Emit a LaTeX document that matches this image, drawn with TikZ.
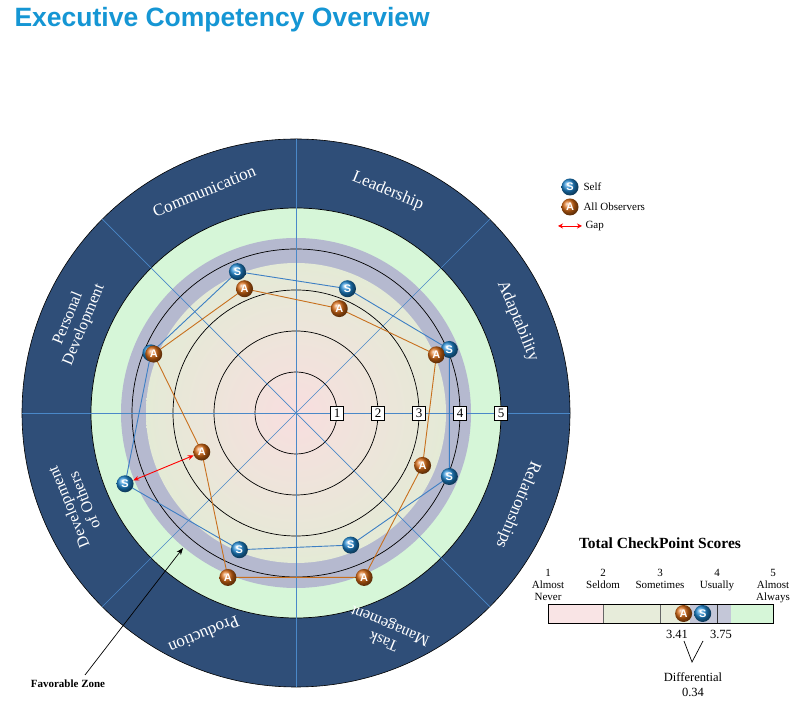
\documentclass[tikz,border=0pt]{standalone}
\usepackage{fontspec}
\setmainfont{Liberation Serif}
\newfontfamily\titlefont{Liberation Sans}
\usetikzlibrary{arrows.meta}
\definecolor{ringdark}{HTML}{2F4E78}
\definecolor{zonegreen}{HTML}{D6F6D8}
\definecolor{bandgray}{HTML}{B5B9CF}
\definecolor{spoke}{HTML}{4A88C8}
\definecolor{selfline}{HTML}{3D7FC4}
\definecolor{selfball}{HTML}{1E86D0}
\definecolor{obsline}{HTML}{C8701E}
\definecolor{obsball}{HTML}{D86A14}
\definecolor{titleblue}{HTML}{1596D4}
\definecolor{pinkc}{HTML}{F8DEDF}
\definecolor{beigec}{HTML}{E4EAD6}
\tikzset{
 sball/.style={circle,minimum size=17pt,inner sep=0pt,shading=ball,ball color=selfball,text=white,font=\titlefont\bfseries\fontsize{11}{11}\selectfont},
 aball/.style={circle,minimum size=17pt,inner sep=0pt,shading=ball,ball color=obsball,text=white,font=\titlefont\bfseries\fontsize{11}{11}\selectfont},
 cat/.style={text=white,align=center,font=\fontsize{17}{18}\selectfont},
 numbox/.style={draw=black,fill=white,inner sep=1.5pt,minimum width=13pt,minimum height=14pt,font=\fontsize{13}{13}\selectfont},
 small/.style={align=center,font=\fontsize{11}{12}\selectfont},
 gap/.style={red,line width=0.9pt,{Stealth[length=6pt,width=5pt]}-{Stealth[length=6pt,width=5pt]}},
}
\begin{document}
\begin{tikzpicture}[x=1pt,y=1pt]
\useasboundingbox[fill=white] (0,0) rectangle (803,711);
\node[anchor=west,text=titleblue,font=\titlefont\bfseries\fontsize{26.5}{26.5}\selectfont] (title) at (11,691) {Executive Competency Overview};
\begin{scope}[shift={(296,298)}]
 \fill[ringdark] (0,0) circle (274);
 \fill[zonegreen] (0,0) circle (205);
 \fill[bandgray] (0,0) circle (175);
 \shade[inner color=pinkc,outer color=beigec] (0,0) circle (150);
 \foreach \r in {41,82,123,164,205} \draw[black,line width=0.7pt] (0,0) circle (\r);
 \draw[black,line width=0.6pt] (0,0) circle (274);
 \foreach \a in {0,45,...,315} \draw[spoke,line width=0.7pt] (0,0) -- (\a:274);
 \node[cat,rotate=22.5] (c1) at (112.5:240) {Communication};
 \node[cat,rotate=-22.5] (c2) at (67.5:240) {Leadership};
 \node[cat,rotate=-67.5] (c3) at (22.5:240) {Adaptability};
 \node[cat,rotate=-112.5] (c4) at (-22.5:240) {Relationships};
 \node[cat,rotate=157.5,font=\fontsize{16}{17}\selectfont] (c5) at (-67.5:238) {Task\\Management};
 \node[cat,rotate=-157.5] (c6) at (-112.5:240) {Production};
 \node[cat,rotate=112.5,font=\fontsize{16}{17}\selectfont] (c7) at (-157.5:238) {Development\\of Others};
 \node[cat,rotate=67.5,font=\fontsize{16}{17}\selectfont] (c8) at (157.5:238) {Personal\\Development};
 \node[numbox] (n1) at (41,0) {1};
 \node[numbox] (n2) at (82,0) {2};
 \node[numbox] (n3) at (123,0) {3};
 \node[numbox] (n4) at (164,0) {4};
 \node[numbox] (n5) at (205,0) {5};
 \coordinate (s1) at (22.5:166);
 \coordinate (s2) at (67.5:134.5);
 \coordinate (s3) at (112.5:153);
 \coordinate (s4) at (157.5:157);
 \coordinate (s5) at (202.5:185);
 \coordinate (s6) at (247.5:148);
 \coordinate (s7) at (292.5:143);
 \coordinate (s8) at (337.5:166);
 \coordinate (a1) at (22.5:152);
 \coordinate (a2) at (67.5:113);
 \coordinate (a3) at (112.5:134.5);
 \coordinate (a4) at (157.5:154);
 \coordinate (a5) at (202.5:102);
 \coordinate (a6) at (247.5:178);
 \coordinate (a7) at (292.5:178);
 \coordinate (a8) at (337.5:137);
 \draw[selfline,line width=0.9pt] (s1)--(s2)--(s3)--(s4)--(s5)--(s6)--(s7)--(s8)--cycle;
 \draw[obsline,line width=0.9pt] (a1)--(a2)--(a3)--(a4)--(a5)--(a6)--(a7)--(a8)--cycle;
 \foreach \i in {1,...,8} \node[sball] (S\i) at (s\i) {S};
 \foreach \i in {1,...,8} \node[aball] (A\i) at (a\i) {A};
 \draw[gap] (S5) -- (A5);
\end{scope}
% legend
\node[sball] (ls) at (570,524) {S};
\node[anchor=west,small] (lst) at (580,524) {Self};
\node[aball] (la) at (570,504) {A};
\node[anchor=west,small] (lat) at (580,504) {All Observers};
\coordinate (g1) at (558,485);
\coordinate (g2) at (582,485);
\draw[red,line width=0.8pt,{Stealth[length=5pt,width=5pt]}-{Stealth[length=5pt,width=5pt]}] (g1) -- (g2);
\node[anchor=west,small] (gt) at (582,485) {Gap};
% favorable zone
\node[font=\bfseries\fontsize{11}{12}\selectfont] (fz) at (68,27) {Favorable Zone};
\coordinate (fzt) at (183,163);
\draw[black,line width=0.7pt,-{Stealth[length=7pt]}] (85,36) -- (fzt);
% total scores
\node[font=\bfseries\fontsize{15.5}{16}\selectfont] (tot) at (660,168) {Total CheckPoint Scores};
\fill[pinkc!80!white] (548,88) rectangle (603,107);
\fill[beigec!90!white] (603,88) rectangle (690,107);
\fill[bandgray!80!white] (690,88) rectangle (731,107);
\fill[zonegreen] (731,88) rectangle (773,107);
\draw[black!60,line width=0.8pt] (603,88) -- (603,107) (660,88) -- (660,107);
\draw[black!80,line width=0.8pt] (717,88) -- (717,107);
\draw[black,line width=0.8pt] (548,88) rectangle (773,107);
\node[small,anchor=north] (l1) at (548,145) {1\\Almost\\Never};
\node[small,anchor=north] (l2) at (603,145) {2\\Seldom};
\node[small,anchor=north] (l3) at (660,145) {3\\Sometimes};
\node[small,anchor=north] (l4) at (717,145) {4\\Usually};
\node[small,anchor=north] (l5) at (773,145) {5\\Almost\\Always};
\node[aball] (ta) at (683.6,97.5) {A};
\node[sball] (ts) at (702.7,97.5) {S};
\node[font=\fontsize{12.5}{13}\selectfont] (v1) at (677,77) {3.41};
\node[font=\fontsize{12.5}{13}\selectfont] (v2) at (721,77) {3.75};
\coordinate (vb) at (692,49);
\draw[black,line width=0.7pt] (684,70) -- (vb) -- (703,70);
\node[font=\fontsize{12.5}{13}\selectfont] (df) at (693,34) {Differential};
\node[font=\fontsize{12.5}{13}\selectfont] (dv) at (693,19) {0.34};
\end{tikzpicture}
\end{document}
